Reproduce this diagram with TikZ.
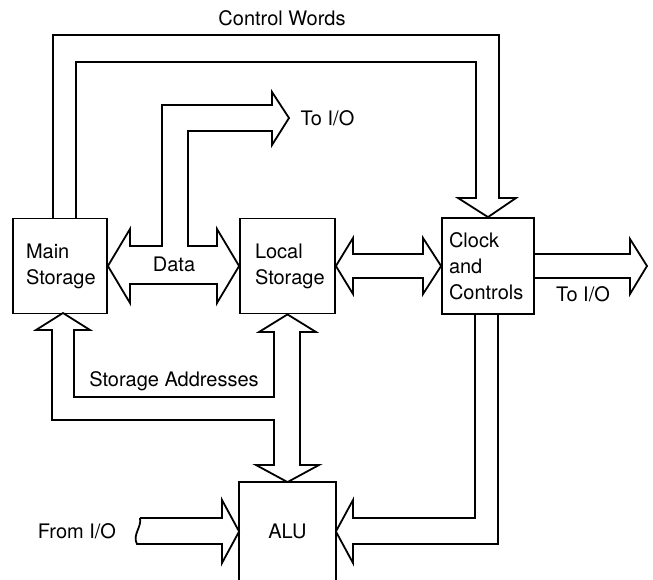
\documentclass[tikz,border=0pt]{standalone}
\usepackage{fontspec}
\setmainfont{TeX Gyre Heros}
\usetikzlibrary{positioning}

\tikzset{
  unit/.style={draw, line width=1.8pt, minimum width=95pt, minimum height=95pt,
    align=left, font=\fontsize{20}{26}\selectfont},
  bus/.style={draw, line width=1.8pt, line join=miter},
  lbl/.style={font=\fontsize{20}{24}\selectfont}
}

\begin{document}
\begin{tikzpicture}[x=1pt,y=-1pt]
  \useasboundingbox (0,0) rectangle (653,580);

  % the four units
  \node[unit, text width=68pt, minimum width=94pt] (main) at (60,266) {Main\\Storage};
  \node[unit, text width=65pt] (local) at (287.5,266) {Local\\Storage};
  \node[unit, text width=78pt, minimum width=92pt, minimum height=96pt] (clock) at (488,266) {Clock\\and\\Controls};
  \node[unit, draw=none, minimum height=97pt] (alu) at (287.5,531.5) {ALU};
  \draw[line width=1.8pt] (alu.south west) -- (alu.north west) -- (alu.north east) -- (alu.south east);

  % free ends
  \coordinate (toiotop) at (289,118);
  \coordinate (toioright) at (647,266);
  \coordinate (fromio) at (140,518);

  % control words
  \draw[bus] (53,219) -- (53,35) -- (499,35) -- (499,198) -- (516,198) -- (clock.north)
    -- (458,198) -- (476,198) -- (476,62) -- (76,62) -- (76,219);

  % data
  \draw[bus] (main.east) -- (130,229) -- (130,246) -- (162,246) -- (162,105) -- (272,105)
    -- (272,92) -- (toiotop) -- (272,145) -- (272,131) -- (188,131) -- (188,246) -- (217,246)
    -- (217,229) -- (local.west) -- (217,303) -- (217,284) -- (130,284) -- (130,303) -- cycle;

  % local storage <-> clock
  \draw[bus] (local.east) -- (353,238) -- (353,254) -- (423,254) -- (423,238) -- (clock.west)
    -- (423,294) -- (423,278) -- (353,278) -- (353,294) -- cycle;

  % clock -> I/O
  \draw[bus] (534,254) -- (630,254) -- (630,239) -- (toioright) -- (630,294) -- (630,278) -- (534,278);

  % clock -> ALU
  \draw[bus] (475,314) -- (475,518) -- (353,518) -- (353,500) -- (alu.east) -- (353,563)
    -- (353,544) -- (498,544) -- (498,314);

  % storage addresses and local storage <-> ALU
  \draw[bus] (63,313) -- (90,330) -- (74,330) -- (74,397) -- (274,397) -- (274,332) -- (259,332)
    -- (local.south) -- (316,332) -- (300,332) -- (300,465) -- (319,465) -- (alu.north)
    -- (256,465) -- (274,465) -- (274,420) -- (52,420) -- (52,330) -- (36,330) -- cycle;

  % from I/O
  \draw[bus] (fromio) -- (222,518) -- (222,500) -- (alu.west) -- (222,563) -- (222,544)
    -- (137,544) .. controls (132,535) and (142,527) .. (fromio);

  % labels
  \node[lbl] (cwlbl) at (282,18) {Control Words};
  \node[lbl, anchor=west] (toiotoplbl) at (297,118) {To I/O};
  \node[lbl] (datalbl) at (174,264) {Data};
  \node[lbl] (toiorightlbl) at (583,294) {To I/O};
  \node[lbl] (addrlbl) at (174,381) {Storage Addresses};
  \node[lbl] (fromiolbl) at (77,531) {From I/O};
\end{tikzpicture}
\end{document}
